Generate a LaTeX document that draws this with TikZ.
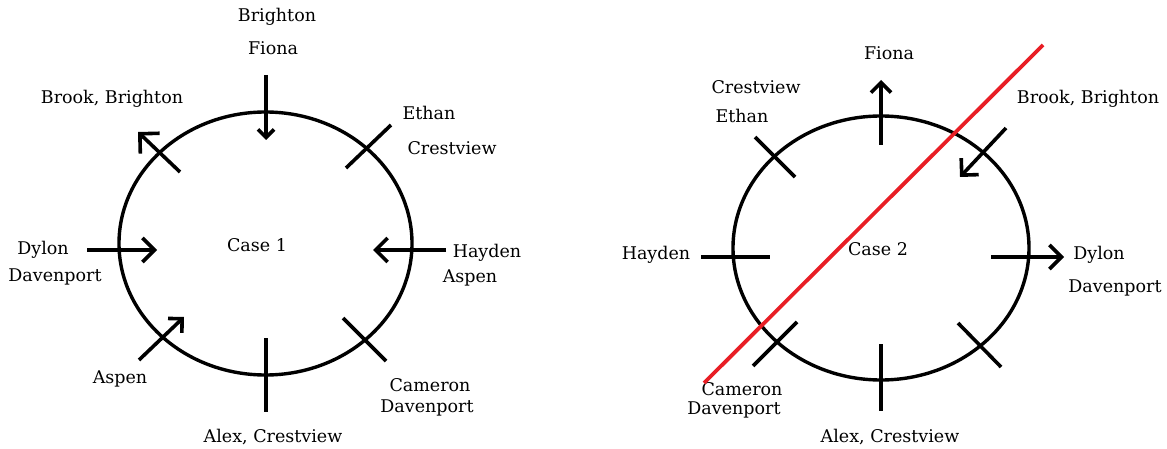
\documentclass[tikz,border=0pt]{standalone}
\usepackage{fontspec}
\setmainfont{DejaVu Serif}
\usetikzlibrary{arrows.meta}
\definecolor{cutred}{RGB}{232,30,37}
\tikzset{
  lbl/.style={inner sep=0pt, font=\fontsize{17.5}{20}\selectfont},
  ring/.style={line width=3.4pt},
  tick/.style={line width=3.6pt},
  arr/.style={line width=3.6pt, -{Straight Barb[length=#1pt, width=2*#1pt, line width=3.6pt]}},
  redline/.style={line width=3.8pt, color=cutred}
}
\begin{document}
\begin{tikzpicture}[x=1pt,y=-1pt]
\useasboundingbox (0,0) rectangle (1167,449);
% ---------------- Case 1 ----------------
\draw[ring] (265.5,243.5) ellipse [x radius=146.5, y radius=131.5];
\node[lbl] (c1) at (257,245) {Case 1};
\node[lbl] (l-brighton) at (277,17) {Brighton};
\node[lbl] (l-fiona) at (273,48) {Fiona};
\node[lbl] (l-brook) at (112,99) {Brook, Brighton};
\node[lbl] (l-ethan) at (429,113) {Ethan};
\node[lbl] (l-crest) at (452,148) {Crestview};
\node[lbl] (l-dylon) at (43,250) {Dylon};
\node[lbl] (l-daven) at (55,277) {Davenport};
\node[lbl] (l-hayden) at (487,253) {Hayden};
\node[lbl] (l-aspen) at (470,278) {Aspen};
\node[lbl] (l-aspen2) at (120,379) {Aspen};
\node[lbl] (l-cameron) at (430,385) {Cameron};
\node[lbl] (l-daven2) at (427,408) {Davenport};
\node[lbl] (l-alex) at (273,437) {Alex, Crestview};

\coordinate (a1s) at (266,75);  \coordinate (a1e) at (266,140);
\coordinate (a2s) at (180,172); \coordinate (a2e) at (138,132);
\coordinate (a3s) at (87,250);  \coordinate (a3e) at (157,250);
\coordinate (a4s) at (446,250); \coordinate (a4e) at (373,250);
\coordinate (a5s) at (139,360); \coordinate (a5e) at (184,317);
\coordinate (t1s) at (346,168); \coordinate (t1e) at (391,125);
\coordinate (t2s) at (343,318); \coordinate (t2e) at (386,361);
\coordinate (t3s) at (266,338); \coordinate (t3e) at (266,412);

\draw[arr=8] (a1s) -- (a1e);
\draw[arr=14] (a2s) -- (a2e);
\draw[arr=12] (a3s) -- (a3e);
\draw[arr=12] (a4s) -- (a4e);
\draw[arr=10] (a5s) -- (a5e);
\draw[tick] (t1s) -- (t1e);
\draw[tick] (t2s) -- (t2e);
\draw[tick] (t3s) -- (t3e);

% ---------------- Case 2 ----------------
\draw[ring] (881,248) ellipse [x radius=148, y radius=132];
\node[lbl] (c2) at (878,249) {Case 2};
\node[lbl] (r-fiona) at (889,53) {Fiona};
\node[lbl] (r-crest) at (756,87) {Crestview};
\node[lbl] (r-ethan) at (742,116) {Ethan};
\node[lbl] (r-brook) at (1088,99) {Brook, Brighton};
\node[lbl] (r-hayden) at (656,255) {Hayden};
\node[lbl] (r-dylon) at (1099,255) {Dylon};
\node[lbl] (r-daven) at (1115,288) {Davenport};
\node[lbl] (r-cameron) at (742,389) {Cameron};
\node[lbl] (r-daven2) at (734,410) {Davenport};
\node[lbl] (r-alex) at (890,437) {Alex, Crestview};

\coordinate (b1s) at (881,145);  \coordinate (b1e) at (881,80);
\coordinate (b2s) at (1006,128); \coordinate (b2e) at (960,177);
\coordinate (b3s) at (991,257);  \coordinate (b3e) at (1064,257);
\coordinate (u1s) at (755,137);  \coordinate (u1e) at (795,177);
\coordinate (u2s) at (701,257);  \coordinate (u2e) at (770,257);
\coordinate (u3s) at (753,366);  \coordinate (u3e) at (797,322);
\coordinate (u4s) at (958,323);  \coordinate (u4e) at (1001,367);
\coordinate (u5s) at (881,344);  \coordinate (u5e) at (881,411);
\coordinate (rs) at (1043,45);   \coordinate (re) at (704,383);

\draw[arr=10] (b1s) -- (b1e);
\draw[arr=12] (b2s) -- (b2e);
\draw[arr=12] (b3s) -- (b3e);
\draw[tick] (u1s) -- (u1e);
\draw[tick] (u2s) -- (u2e);
\draw[tick] (u3s) -- (u3e);
\draw[tick] (u4s) -- (u4e);
\draw[tick] (u5s) -- (u5e);
\draw[redline] (rs) -- (re);
\end{tikzpicture}
\end{document}
